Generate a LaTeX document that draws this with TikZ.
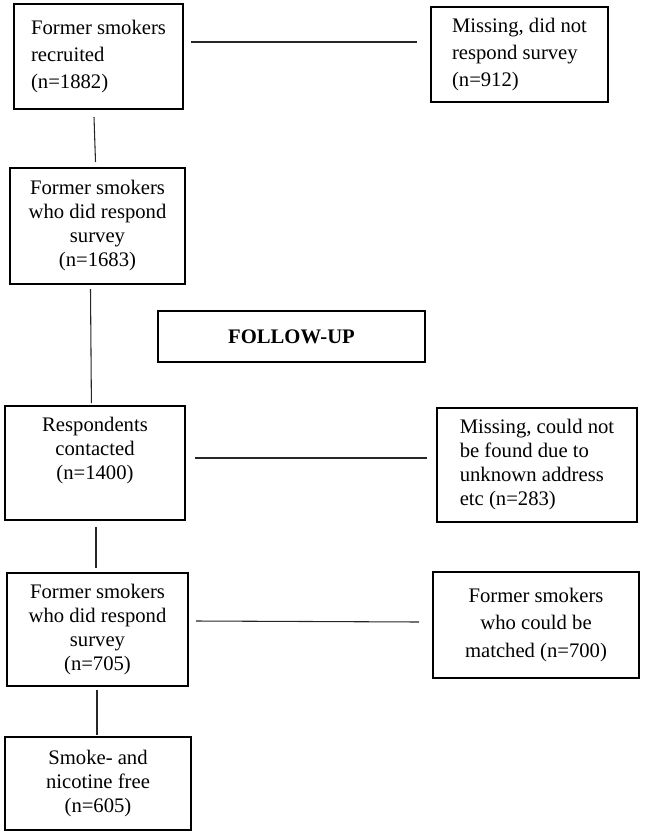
\documentclass[tikz,border=0pt]{standalone}
\usepackage{fontspec}
\setmainfont{Liberation Serif}
\usetikzlibrary{calc}

\begin{document}
\begin{tikzpicture}[x=.75pt,y=-.75pt,
  box/.style={draw,line width=1.5pt,inner sep=0pt,align=center,font=\fontsize{15.5}{18}\selectfont},
  wide/.style={font=\fontsize{15.5}{20.5}\selectfont},
  link/.style={line width=.8pt,black!85}]
\useasboundingbox (0,0) rectangle (644,835);
\node[box,wide,align=left,minimum width=126.75pt,minimum height=78.75pt] (rec) at (98.5,56.5) {Former smokers\\recruited\\(n=1882)};
\node[box,wide,align=left,minimum width=132.75pt,minimum height=71.25pt] (miss1) at (519.5,54.5) {Missing, did not\\respond survey\\(n=912)};
\node[box,minimum width=131.25pt,minimum height=87pt] (resp1) at (97.5,226) {Former smokers\\who did respond\\survey\\(n=1683)};
\node[box,minimum width=200.25pt,minimum height=38.25pt,font=\fontsize{15.5}{18}\selectfont\bfseries] (follow) at (291.5,336.5) {FOLLOW-UP};
\node[box,minimum width=135pt,minimum height=85.5pt,text depth=22pt] (cont) at (95,463) {Respondents\\contacted\\(n=1400)};
\node[box,align=left,minimum width=150pt,minimum height=85.5pt] (miss2) at (537,465) {Missing, could not\\be found due to\\unknown address\\etc (n=283)};
\node[box,minimum width=135.75pt,minimum height=84.75pt] (resp2) at (97.5,629.5) {Former smokers\\who did respond\\survey\\(n=705)};
\node[box,wide,minimum width=154.5pt,minimum height=79.5pt] (match) at (536,625) {Former smokers\\who could be\\matched (n=700)};
\node[box,minimum width=139.5pt,minimum height=69.75pt] (free) at (98,783.5) {Smoke- and\\nicotine free\\(n=605)};
\draw[link] ($(rec.east)+(7,-14.5)$) -- ($(miss1.west)+(-13,-12.5)$);
\draw[link] ($(rec.south)+(-4.5,7)$) -- ($(resp1.north)+(-2,-5)$);
\draw[link] ($(resp1.south)+(-7,4)$) -- ($(cont.north)+(-3.6,-2)$);
\draw[link] ($(cont.east)+(9,-5)$) -- ($(miss2.west)+(-9,-7)$);
\draw[link] ($(cont.south)+(1,6)$) -- ($(resp2.north)+(-1.5,-4)$);
\draw[link] ($(resp2.east)+(7,-8.5)$) -- ($(match.west)+(-13,-3)$);
\draw[link] ($(resp2.south)+(-.5,3)$) -- ($(free.north)+(-1,-1)$);
\end{tikzpicture}
\end{document}
